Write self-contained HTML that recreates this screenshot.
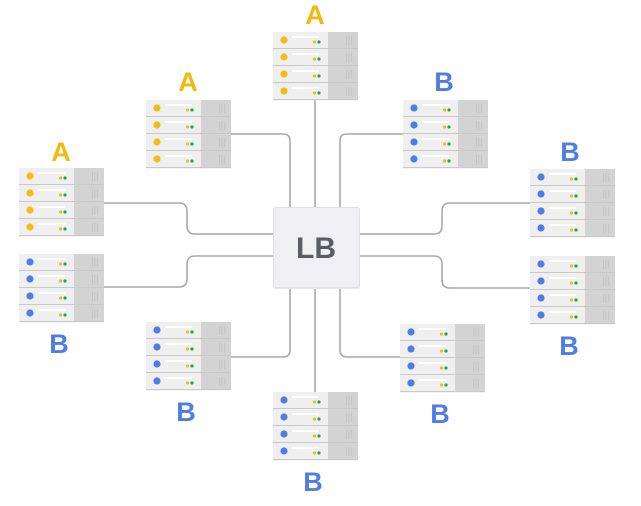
<!DOCTYPE html>
<html><head><style>
html,body{margin:0;padding:0;background:#fff;}
svg{display:block;}
text{font-family:"Liberation Sans",sans-serif;font-weight:bold;}
</style></head><body>
<svg width="641" height="506" viewBox="0 0 641 506" xmlns="http://www.w3.org/2000/svg">
<defs>
<g id="row">
  <rect x="0" y="0" width="85" height="17" fill="#efefef"/>
  <rect x="55" y="0" width="30" height="17" fill="#d3d3d3"/>
  <rect x="0" y="16" width="85" height="1.2" fill="#c9c9c9"/>
  <rect x="19" y="4" width="27" height="2" fill="#ffffff"/>
  <g fill="#c2c2c2"><rect x="73" y="4" width="0.8" height="9"/><rect x="75.5" y="4" width="0.8" height="9"/><rect x="78" y="4" width="0.8" height="9"/></g>
  <circle cx="41.5" cy="10" r="1.6" fill="#e8c020"/>
  <circle cx="46" cy="10" r="1.6" fill="#2e9e4a"/>
</g>
<g id="srvA">
  <use href="#row" y="0"/><use href="#row" y="17"/><use href="#row" y="34"/><use href="#row" y="51"/>
  <g fill="#f2bd16"><circle cx="11" cy="8" r="3.6"/><circle cx="11" cy="25" r="3.6"/><circle cx="11" cy="42" r="3.6"/><circle cx="11" cy="59" r="3.6"/></g>
</g>
<g id="srvB">
  <use href="#row" y="0"/><use href="#row" y="17"/><use href="#row" y="34"/><use href="#row" y="51"/>
  <g fill="#4f7ee3"><circle cx="11" cy="8" r="3.6"/><circle cx="11" cy="25" r="3.6"/><circle cx="11" cy="42" r="3.6"/><circle cx="11" cy="59" r="3.6"/></g>
</g>
</defs>

<g fill="none" stroke="#a9a9a9" stroke-width="1.6">
  <path d="M315 100 V207"/>
  <path d="M315 287 V392"/>
  <path d="M231 134 H283 Q290 134 290 141 V207"/>
  <path d="M403 134 H347 Q340 134 340 141 V207"/>
  <path d="M231 357 H283 Q290 357 290 350 V287"/>
  <path d="M400 357 H347 Q340 357 340 350 V287"/>
  <path d="M104 203 H179 Q187 203 187 211 V226 Q187 234 195 234 H273"/>
  <path d="M104 287 H179 Q187 287 187 279 V264 Q187 256 195 256 H273"/>
  <path d="M530 203 H450 Q442 203 442 211 V226 Q442 234 434 234 H359"/>
  <path d="M530 288 H450 Q442 288 442 280 V264 Q442 256 434 256 H359"/>
</g>

<rect x="274" y="209" width="86" height="80" rx="2" fill="#e6e6e6"/>
<rect x="273.5" y="207.5" width="86" height="80" rx="2" fill="#f0eff2" stroke="#e0e0e0"/>
<text x="316" y="258" font-size="30" fill="#5a5d62" text-anchor="middle">LB</text>

<use href="#srvA" x="273" y="32"/>
<use href="#srvA" x="146" y="100"/>
<use href="#srvA" x="19" y="168"/>
<use href="#srvB" x="19" y="254"/>
<use href="#srvB" x="146" y="322"/>
<use href="#srvB" x="273" y="392"/>
<use href="#srvB" x="400" y="324"/>
<use href="#srvB" x="530" y="256"/>
<use href="#srvB" x="530" y="169"/>
<use href="#srvB" x="403" y="100"/>

<g font-size="27" text-anchor="middle">
  <text x="315" y="24" fill="#f2b90f">A</text>
  <text x="188" y="91" fill="#f2b90f">A</text>
  <text x="61" y="161" fill="#f2b90f">A</text>
  <text x="444" y="91" fill="#4f7ee3">B</text>
  <text x="570" y="161" fill="#4f7ee3">B</text>
  <text x="59" y="353" fill="#4f7ee3">B</text>
  <text x="186" y="421" fill="#4f7ee3">B</text>
  <text x="313" y="491" fill="#4f7ee3">B</text>
  <text x="440" y="423" fill="#4f7ee3">B</text>
  <text x="569" y="355" fill="#4f7ee3">B</text>
</g>
</svg>
</body></html>
